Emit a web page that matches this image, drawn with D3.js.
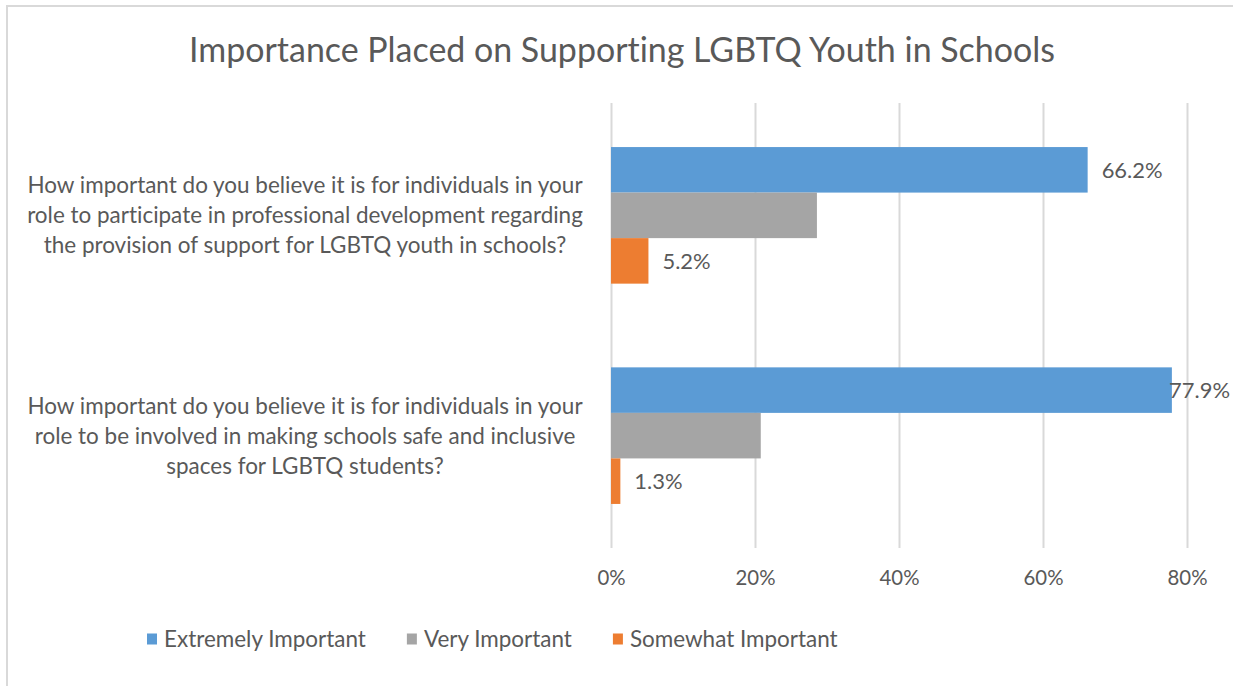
<!DOCTYPE html>
<html>
<head>
<meta charset="utf-8">
<script src="https://cdn.jsdelivr.net/npm/d3@7"></script>
<style>
  html, body { margin: 0; padding: 0; background: #fff; }
  svg { display: block; }
  text { font-family: Lato, "Open Sans", "Liberation Sans", sans-serif; fill: #595959; font-variant-ligatures: none; }
</style>
</head>
<body>
<svg id="chart" width="1233" height="686"></svg>
<script>
// ---- data ----
const title = "Importance Placed on Supporting LGBTQ Youth in Schools";
const categories = [
  ["How important do you believe it is for individuals in your",
   "role to participate in professional development regarding",
   "the provision of support for LGBTQ youth in schools?"],
  ["How important do you believe it is for individuals in your",
   "role to be involved in making schools safe and inclusive",
   "spaces for LGBTQ students?"]
];
const seriesNames = ["Extremely Important", "Very Important", "Somewhat Important"];
const extremelyImportant = [66.2, 77.9];
const veryImportant = [28.6, 20.8];
const somewhatImportant = [5.2, 1.3];
const showLabels = [true, false, true];
const tickValues = [0, 20, 40, 60, 80];
const tickLabels = ["0%", "20%", "40%", "60%", "80%"];
const colors = ["#5B9BD5", "#A5A5A5", "#ED7D31"];

const seriesValues = [extremelyImportant, veryImportant, somewhatImportant];

// ---- layout ----
const W = 1233, H = 686;
const svg = d3.select("#chart");
const plot = { left: 611, right: 1187, top: 103, bottom: 548 };

// chart border
svg.append("rect")
  .attr("x", 7).attr("y", 6).attr("width", W + 10).attr("height", H + 10)
  .attr("fill", "none").attr("stroke", "#D9D9D9").attr("stroke-width", 2);

// font-fitting helper
function fitWidth(sel, target) {
  let maxW = 0;
  sel.each(function () { maxW = Math.max(maxW, this.getComputedTextLength()); });
  const fs = parseFloat(sel.attr("font-size"));
  sel.attr("font-size", fs * target / maxW);
}

// title
const t = svg.append("text")
  .attr("x", 622).attr("y", 62)
  .attr("text-anchor", "middle")
  .attr("font-size", 28)
  .text(title);
fitWidth(t, 866);

const x = d3.scaleLinear().domain([0, 80]).range([plot.left, plot.right]);
const y = d3.scaleBand().domain(d3.range(categories.length))
  .range([plot.top, plot.bottom]).paddingInner(0.38).paddingOuter(0.2);
const ySub = d3.scaleBand().domain(d3.range(seriesNames.length))
  .range([0, y.bandwidth()]);

// gridlines via axis
const xAxis = d3.axisBottom(x).tickValues(tickValues)
  .tickFormat((d, i) => tickLabels[i])
  .tickSize(-(plot.bottom - plot.top)).tickPadding(20);
const gAxis = svg.append("g")
  .attr("transform", `translate(0,${plot.bottom})`)
  .call(xAxis);
gAxis.select(".domain").remove();
gAxis.selectAll(".tick line").attr("stroke", "#D9D9D9").attr("stroke-width", 2);
const tickText = gAxis.selectAll(".tick text")
  .attr("fill", "#595959").attr("font-size", 19)
  .style("font-family", "Lato, 'Open Sans', sans-serif")
  .attr("dy", "0.35em").attr("y", 30);
fitWidth(tickText, 40);

// bars
const groups = svg.append("g").selectAll("g")
  .data(categories).join("g")
  .attr("transform", (d, i) => `translate(0,${y(i)})`);

seriesNames.forEach((name, s) => {
  groups.append("rect")
    .attr("x", x(0))
    .attr("y", ySub(s))
    .attr("height", ySub.bandwidth())
    .attr("width", (d, i) => x(seriesValues[s][i]) - x(0))
    .attr("fill", colors[s]);
});

// data labels
const labelSize = 19;
const labels = [];
seriesNames.forEach((name, s) => {
  if (!showLabels[s]) return;
  categories.forEach((c, i) => {
    const tx = svg.append("text")
      .attr("y", y(i) + ySub(s) + ySub.bandwidth() / 2)
      .attr("dy", "0.35em")
      .attr("font-size", labelSize)
      .text(seriesValues[s][i].toFixed(1) + "%");
    labels.push({ node: tx, v: seriesValues[s][i] });
  });
});
const labelSel = d3.selectAll(labels.map(l => l.node.node()));
{
  const ref = labels.find(l => l.v === 66.2).node;
  const w = ref.node().getComputedTextLength();
  labelSel.attr("font-size", labelSize * 61 / w);
}
labels.forEach(l => {
  const w = l.node.node().getComputedTextLength();
  const lx = Math.min(x(l.v) + 14, W - 3 - w);
  l.node.attr("x", lx);
});

// category labels
const catText = svg.append("g").selectAll("text")
  .data(categories).join("text")
  .attr("text-anchor", "middle")
  .attr("font-size", 20);
catText.each(function (lines, i) {
  const cy = y(i) + y.bandwidth() / 2;
  d3.select(this).selectAll("tspan").data(lines).join("tspan")
    .attr("x", 305)
    .attr("y", (d, k) => cy + (k - (lines.length - 1) / 2) * 30)
    .attr("dy", "0.35em")
    .text(d => d);
});
{
  let maxW = 0;
  catText.selectAll("tspan").each(function () { maxW = Math.max(maxW, this.getComputedTextLength()); });
  catText.attr("font-size", 20 * 556 / maxW);
}

// legend
const legend = svg.append("g");
const legItems = legend.selectAll("g").data(seriesNames).join("g");
legItems.append("rect")
  .attr("width", 10).attr("height", 11)
  .attr("y", -5.5)
  .attr("fill", (d, i) => colors[i]);
const legText = legItems.append("text")
  .attr("x", 17).attr("dy", "0.35em")
  .attr("font-size", 20)
  .text(d => d);
{
  const w = legText.filter((d, i) => i === 0).node().getComputedTextLength();
  legText.attr("font-size", 20 * 202 / w);
}
let lx = 147;
legItems.each(function () {
  const tw = d3.select(this).select("text").node().getComputedTextLength();
  d3.select(this).attr("transform", `translate(${lx},639)`);
  lx += 17 + tw + 41;
});
</script>
</body>
</html>
